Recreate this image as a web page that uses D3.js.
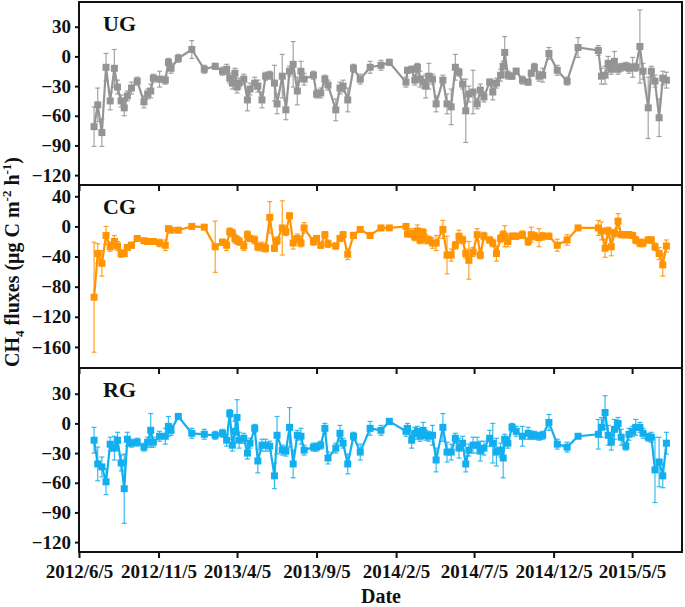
<!DOCTYPE html>
<html lang="en">
  <head>
    <meta charset="utf-8">
    <title>CH4 fluxes</title>
    <script src="https://cdnjs.cloudflare.com/ajax/libs/d3/7.8.5/d3.min.js"></script>
    <style type="text/css">
      body { margin: 0; background: #fff; }
      svg text { font-family: "Liberation Serif", "Times New Roman", serif; font-weight: bold; fill: #111; }
    </style>
  </head>
  <body>
    <script type="text/javascript">
    // sampling dates (shared by the three grasslands)
    var dates = [
      "2012-07-04","2012-07-11","2012-07-19","2012-07-27","2012-08-04","2012-08-12","2012-08-18","2012-08-25","2012-08-31","2012-09-06",
      "2012-09-14","2012-09-25","2012-10-08","2012-10-15","2012-10-21","2012-10-26","2012-11-07","2012-11-18","2012-11-24","2012-11-29",
      "2012-12-13","2013-01-08","2013-02-01","2013-02-22","2013-03-08","2013-03-16","2013-03-22","2013-03-27","2013-04-01","2013-04-05",
      "2013-04-09","2013-04-18","2013-04-25","2013-04-30","2013-05-09","2013-05-15","2013-05-23","2013-05-30","2013-06-07","2013-06-16",
      "2013-06-21","2013-07-01","2013-07-08","2013-07-15","2013-07-22","2013-07-30","2013-08-06","2013-08-12","2013-08-30","2013-09-05",
      "2013-09-13","2013-09-21","2013-09-27","2013-10-12","2013-10-20","2013-10-26","2013-11-04","2013-11-15","2013-11-28","2013-12-17",
      "2014-01-07","2014-01-23","2014-02-24","2014-02-27","2014-03-07","2014-03-13","2014-03-18","2014-03-23","2014-03-29","2014-04-03",
      "2014-04-09","2014-04-16","2014-04-23","2014-05-06","2014-05-14","2014-05-22","2014-05-30","2014-06-06","2014-06-13","2014-06-19",
      "2014-06-25","2014-07-03","2014-07-11","2014-07-17","2014-07-24","2014-08-04","2014-08-10","2014-08-17","2014-08-25","2014-08-30",
      "2014-09-02","2014-09-08","2014-09-16","2014-09-24","2014-10-06","2014-10-17","2014-10-23","2014-10-29","2014-11-07","2014-11-14",
      "2014-11-26","2014-12-12","2014-12-31","2015-01-21","2015-03-01","2015-03-07","2015-03-14","2015-03-20","2015-03-26","2015-04-01",
      "2015-04-08","2015-04-14","2015-04-23","2015-04-29","2015-05-06","2015-05-12","2015-05-20","2015-05-26","2015-06-05","2015-06-11",
      "2015-06-18","2015-06-26","2015-07-03","2015-07-10"
    ];

    var ugFlux = [
      -71,-49,-77,-11,-45,-12,-31,-45,-52,-40,
      -32,-25,-46,-38,-35,-22,-23,-24,-6,-12,
      -2,7,-13,-10,-15,-13,-22,-27,-17,-31,
      -27,-23,-44,-33,-27,-30,-44,-20,-19,-27,
      -48,-20,-54,-15,-8,-35,-15,-23,-19,-38,
      -37,-23,-29,-54,-32,-30,-44,-12,-23,-11,
      -9,-6,-26,-14,-13,-24,-11,-23,-26,-30,
      -20,-23,-48,-24,-48,-51,-11,-16,-28,-55,
      -38,-36,-48,-34,-41,-26,-36,-27,-19,-10,
      4,-19,-20,-15,-24,-26,-17,-11,-20,-19,
      3,-14,-25,9,6,-20,-19,-7,-13,-5,
      -13,-11,-10,-12,-11,-11,10,-15,-52,-15,
      -25,-62,-22,-24
    ];
    var ugErr = [
      20,17,14,14,9,19,7,6,8,5,
      6,4,6,5,7,4,8,4,4,5,
      4,9,4,3,4,5,5,6,5,6,
      5,5,11,6,6,6,8,4,4,18,
      10,22,10,5,23,14,10,6,4,4,
      5,4,5,11,6,6,12,4,5,6,
      5,3,5,3,3,5,4,8,6,12,
      13,5,8,5,10,18,13,4,5,32,
      8,22,5,6,5,3,8,5,6,5,
      16,4,3,3,4,3,3,4,5,7,
      6,5,4,10,5,8,9,7,5,10,
      5,4,4,5,10,4,37,8,31,5,
      6,19,7,8
    ];

    var cgFlux = [
      -94,-36,-49,-12,-27,-20,-26,-36,-36,-28,
      -25,-16,-19,-20,-20,-20,-22,-25,-3,-5,
      -5,0,-1,-27,-21,-25,-7,-9,-16,-18,
      -20,-26,-11,-16,-18,-27,-27,-29,12,-29,
      -19,-2,-7,14,-22,-16,-22,-2,-20,-16,
      -25,-11,-23,-26,-16,-11,-37,-12,-4,-12,
      -2,-2,0,-10,-9,-14,-6,-18,-8,-17,
      -18,-22,-22,-4,-38,-38,-25,-13,-18,-36,
      -45,-34,-11,-38,-13,-18,-22,-36,-16,-11,
      -13,-20,-13,-13,-11,-20,-11,-13,-15,-13,
      -13,-25,-18,-2,-2,-6,-29,-6,-27,-9,
      7,-11,-11,-11,-12,-18,-22,-22,-18,-18,
      -27,-36,-51,-26
    ];
    var cgErr = [
      73,13,17,12,6,8,6,5,4,4,
      4,3,3,3,3,3,5,7,3,3,
      2,3,2,34,4,7,5,5,6,5,
      5,6,5,4,5,5,6,5,21,4,
      5,36,5,4,8,6,5,7,5,4,
      4,4,5,4,4,4,7,4,3,4,
      3,3,3,4,6,5,8,5,5,6,
      5,7,10,12,25,8,5,8,5,6,
      25,6,8,5,5,4,5,10,5,5,
      14,7,4,4,5,5,10,5,12,5,
      4,8,7,3,10,12,12,5,12,5,
      10,4,4,4,4,5,5,5,4,4,
      5,8,15,8
    ];

    var rgFlux = [
      -17,-41,-44,-59,-21,-25,-17,-40,-66,-16,
      -20,-19,-24,-19,-7,-19,-13,-13,-3,-7,
      7,-10,-11,-12,-10,-17,10,-22,-8,6,
      -17,-15,-30,-20,-5,-38,-22,-22,-23,-53,
      -12,-27,-28,-4,-41,-12,-13,-27,-24,-24,
      -22,-5,-35,-25,-10,-20,-41,-13,-29,-5,
      -7,2,-8,-5,-17,-10,-8,-13,-7,-12,
      -13,-12,-37,-4,-29,-29,-15,-25,-20,-41,
      -27,-22,-22,-28,-25,-15,-20,-29,-27,-35,
      -16,-20,-4,-8,-13,-10,-12,-12,-13,-12,
      1,-21,-24,-13,-11,-4,11,-12,-19,-6,
      0,-14,-23,-11,-8,-4,-4,-10,-14,-14,
      -47,-39,-53,-20
    ];
    var rgErr = [
      13,17,10,13,7,12,8,8,35,7,
      4,4,4,5,17,5,5,8,10,5,
      3,5,5,4,4,6,4,6,10,18,
      8,5,6,5,4,12,6,6,5,13,
      19,5,5,20,14,5,8,5,4,4,
      4,5,6,5,8,5,10,4,8,7,
      5,3,5,5,8,6,5,5,8,5,
      5,10,12,14,10,8,5,10,7,8,
      6,8,8,10,7,8,20,14,7,20,
      5,5,4,5,10,6,4,4,4,4,
      8,5,5,2,15,10,17,10,8,10,
      6,8,4,6,5,8,5,5,4,5,
      33,25,12,11
    ];

    var xTickLabels = ["2012/6/5","2012/11/5","2013/4/5","2013/9/5","2014/2/5","2014/7/5","2014/12/5","2015/5/5"];
    var ugTicks = [30, 0, -30, -60, -90, -120];
    var cgTicks = [40, 0, -40, -80, -120, -160];
    var rgTicks = [30, 0, -30, -60, -90, -120];

    //Width and height
    var w = 685;
    var h = 607;
    var left = 79, right = 682;

    var parseDay = d3.timeParse("%Y-%m-%d");
    var parseTick = d3.timeParse("%Y/%m/%d");
    var tickDates = xTickLabels.map(parseTick);

    var x = d3.scaleTime()
              .domain([parseTick("2012/6/5"), parseTick("2015/8/9")])
              .range([left, right]);

    var panels = [
      { name: "UG", flux: ugFlux, err: ugErr, ticks: ugTicks, domain: [-130, 55],
        top: 2, bottom: 185, color: "#949494" },
      { name: "CG", flux: cgFlux, err: cgErr, ticks: cgTicks, domain: [-188, 55],
        top: 185, bottom: 368, color: "#ff9300" },
      { name: "RG", flux: rgFlux, err: rgErr, ticks: rgTicks, domain: [-130, 56],
        top: 368, bottom: 552, color: "#12aff0" }
    ];

    var svg = d3.select("body")
                .append("svg")
                .attr("width", w)
                .attr("height", h);

    panels.forEach(function(p, k) {
      var y = d3.scaleLinear().domain(p.domain).range([p.bottom, p.top]);
      var rows = dates.map(function(d, i) {
        return { date: parseDay(d), v: p.flux[i], e: p.err[i] };
      });
      var g = svg.append("g");

      // error bars
      var eb = g.selectAll("g.err")
        .data(rows)
        .enter()
        .append("g")
        .attr("stroke", p.color)
        .attr("stroke-opacity", 0.85)
        .attr("stroke-width", 1.2);
      eb.append("line")
        .attr("x1", function(d) { return x(d.date); })
        .attr("x2", function(d) { return x(d.date); })
        .attr("y1", function(d) { return y(d.v - d.e); })
        .attr("y2", function(d) { return y(d.v + d.e); });
      eb.append("line")
        .attr("x1", function(d) { return x(d.date) - 2.5; })
        .attr("x2", function(d) { return x(d.date) + 2.5; })
        .attr("y1", function(d) { return y(d.v + d.e); })
        .attr("y2", function(d) { return y(d.v + d.e); });
      eb.append("line")
        .attr("x1", function(d) { return x(d.date) - 2.5; })
        .attr("x2", function(d) { return x(d.date) + 2.5; })
        .attr("y1", function(d) { return y(d.v - d.e); })
        .attr("y2", function(d) { return y(d.v - d.e); });

      // connecting line
      var line = d3.line()
        .x(function(d) { return x(d.date); })
        .y(function(d) { return y(d.v); });
      g.append("path")
        .datum(rows)
        .attr("d", line)
        .attr("fill", "none")
        .attr("stroke", p.color)
        .attr("stroke-width", 2.2);

      // square markers
      g.selectAll("rect.pt")
        .data(rows)
        .enter()
        .append("rect")
        .attr("x", function(d) { return x(d.date) - 3.5; })
        .attr("y", function(d) { return y(d.v) - 3.5; })
        .attr("width", 7)
        .attr("height", 7)
        .attr("fill", p.color);

      // y axis
      var ya = svg.append("g")
        .attr("transform", "translate(" + left + ",0)")
        .call(d3.axisLeft(y).tickValues(p.ticks).tickSize(4).tickPadding(4));
      ya.select(".domain").remove();
      ya.selectAll("line").attr("stroke", "#111").attr("stroke-width", 2);
      ya.selectAll("text")
        .attr("font-size", "19px")
        .attr("font-family", null);

      // x axis ticks (labels only on the last panel)
      var xa = svg.append("g")
        .attr("transform", "translate(0," + p.bottom + ")")
        .call(d3.axisBottom(x).tickValues(tickDates).tickSize(6).tickPadding(7)
          .tickFormat(function(d, i) { return k == 2 ? xTickLabels[i] : ""; }));
      xa.select(".domain").remove();
      xa.selectAll("line").attr("stroke", "#111").attr("stroke-width", 2);
      xa.selectAll("text")
        .attr("font-size", "19px")
        .attr("font-family", null);

      // frame
      svg.append("rect")
        .attr("x", left)
        .attr("y", p.top)
        .attr("width", right - left)
        .attr("height", p.bottom - p.top)
        .attr("fill", "none")
        .attr("stroke", "#111")
        .attr("stroke-width", 2);

      // panel label
      svg.append("text")
        .attr("x", 103)
        .attr("y", p.top + 29)
        .attr("font-size", "22px")
        .text(p.name);
    });

    // axis titles
    var yt = svg.append("text")
      .attr("transform", "translate(19,262) rotate(-90)")
      .attr("text-anchor", "middle")
      .attr("font-size", "20px");
    yt.append("tspan").text("CH");
    yt.append("tspan").attr("dy", 5).attr("font-size", "13px").text("4");
    yt.append("tspan").attr("dy", -5).text(" fluxes (\u03bcg C m");
    yt.append("tspan").attr("dy", -8).attr("font-size", "13px").text("-2");
    yt.append("tspan").attr("dy", 8).text(" h");
    yt.append("tspan").attr("dy", -8).attr("font-size", "13px").text("-1");
    yt.append("tspan").attr("dy", 8).text(")");

    svg.append("text")
      .attr("x", 381)
      .attr("y", 603)
      .attr("text-anchor", "middle")
      .attr("font-size", "20px")
      .text("Date");
    </script>
  </body>
</html>
